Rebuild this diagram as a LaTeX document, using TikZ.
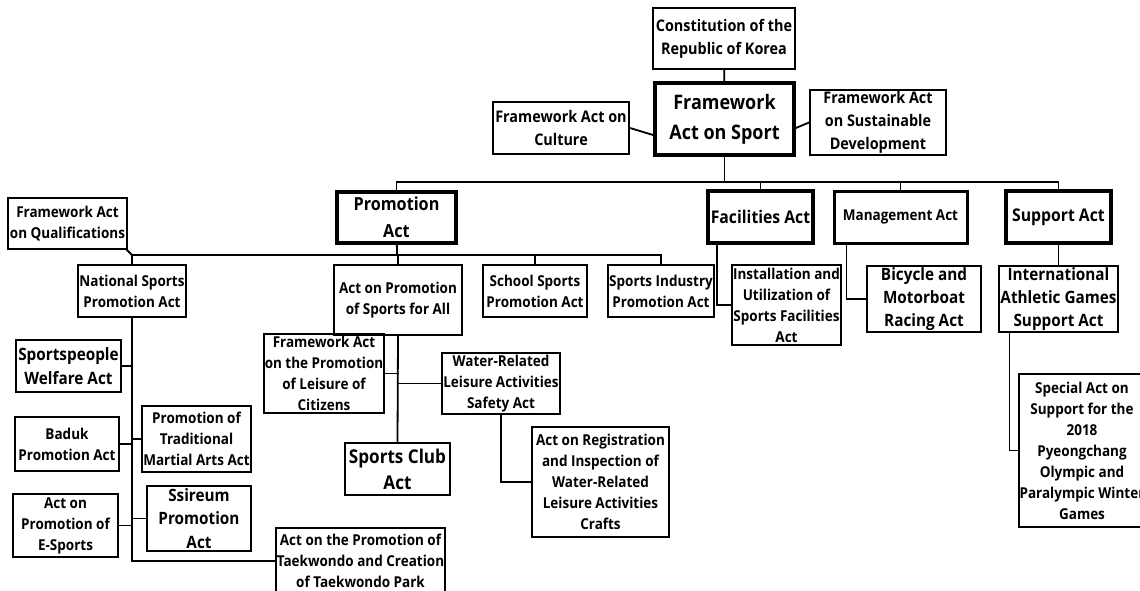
\documentclass[tikz,border=0pt]{standalone}
\usepackage{fontspec}
\setmainfont{Open Sans}[FakeStretch=0.9]
\usetikzlibrary{calc}
\tikzset{
	law/.style={draw,line width=2pt,align=center,inner sep=1pt,font=\fontsize{15}{21}\selectfont\bfseries},
	lawm/.style={law,font=\fontsize{16}{23}\selectfont\bfseries},
	lawb/.style={law,font=\fontsize{17}{23.3}\selectfont\bfseries},
	toplaw/.style={law,line width=3.8pt},
	link/.style={line width=1.8pt}
}
\begin{document}
\begin{tikzpicture}[x=1pt,y=-1pt,line cap=rect]
		\fill[white] (0,0) rectangle (1140,591);
		\useasboundingbox (0,0) rectangle (1140,591);
		\clip (0,0) rectangle (1140,591);
		% top of the tree
		\node[lawm,minimum width=142,minimum height=61] (const) at (724,38.5) {Constitution of the\\Republic of Korea};
		\node[toplaw,minimum width=139,minimum height=72,font=\fontsize{20}{30}\selectfont\bfseries] (sport) at (724.5,119) {Framework\\Act on Sport};
		\node[lawm,minimum width=136,minimum height=52] (culture) at (561,128) {Framework Act on\\Culture};
		\node[lawm,minimum width=136,minimum height=65] (sustain) at (878,122.5) {Framework Act\\on Sustainable\\Development};
		\node[toplaw,minimum width=119,minimum height=51,font=\fontsize{18}{26.7}\selectfont\bfseries] (promo) at (396.5,217.5) {Promotion\\Act};
		\node[toplaw,minimum width=105,minimum height=52,font=\fontsize{17.5}{23}\selectfont\bfseries] (facil) at (760.5,217) {Facilities Act};
		\node[toplaw,line width=3pt,minimum width=133,minimum height=52] (manage) at (900.5,217) {Management Act};
		\node[toplaw,minimum width=105,minimum height=52,font=\fontsize{17.5}{23}\selectfont\bfseries] (support) at (1058.5,217) {Support Act};
		% promotion act branch
		\node[law,minimum width=119,minimum height=51] (qual) at (67.5,223.5) {Framework Act\\on Qualifications};
		\node[law,minimum width=104,minimum height=52] (natl) at (132,291) {National Sports\\Promotion Act};
		\node[law,minimum width=128,minimum height=70] (allsp) at (398,300) {Act on Promotion\\of Sports for All};
		\node[law,minimum width=104,minimum height=52] (school) at (535,291) {School Sports\\Promotion Act};
		\node[law,minimum width=104,minimum height=52] (industry) at (661,291) {Sports Industry\\Promotion Act};
		\node[lawb,minimum width=105,minimum height=52] (welfare) at (68.5,366) {Sportspeople\\Welfare Act};
		\node[law,minimum width=104,minimum height=54] (baduk) at (67,444) {Baduk\\Promotion Act};
		\node[law,minimum width=105,minimum height=66] (martial) at (196.5,439) {Promotion of\\Traditional\\Martial Arts Act};
		\node[law,minimum width=105,minimum height=63] (esports) at (65.5,525.5) {Act on\\Promotion of\\E-Sports};
		\node[lawb,minimum width=104,minimum height=65] (ssireum) at (199,518.5) {Ssireum\\Promotion\\Act};
		\node[law,minimum width=169,minimum height=66] (taekw) at (360.5,561) {Act on the Promotion of\\Taekwondo and Creation\\of Taekwondo Park};
		\node[law,minimum width=118,minimum height=79] (leisure) at (324,373.5) {Framework Act\\on the Promotion\\of Leisure of\\Citizens};
		\node[law,minimum width=114,minimum height=61] (water) at (501,383.5) {Water-Related\\Leisure Activities\\Safety Act};
		\node[law,minimum width=105,minimum height=52,font=\fontsize{19}{26}\selectfont\bfseries] (club) at (397.5,469) {Sports Club\\Act};
		\node[law,minimum width=137,minimum height=110] (regist) at (600.5,482) {Act on Registration\\and Inspection of\\Water-Related\\Leisure Activities\\Crafts};
		% other branches
		\node[law,minimum width=105,minimum height=80] (install) at (786.5,305) {Installation and\\Utilization of\\Sports Facilities\\Act};
		\node[lawb,minimum width=114,minimum height=66] (bicycle) at (924,299) {Bicycle and\\Motorboat\\Racing Act};
		\node[lawb,minimum width=113,minimum height=66] (intl) at (1058.5,299) {International\\Athletic Games\\Support Act};
		\node[law,minimum width=122,minimum height=153] (special) at (1082,450.5) {Special Act on\\Support for the\\2018\\Pyeongchang\\Olympic and\\Paralympic Winter\\Games};
		% connectors
		\coordinate (topjoin) at (724.5,182);
		\coordinate (projoin) at (397,255);
		\draw[link] (const) -- (sport);
		\draw[link] (culture.east) -- ($(sport.west)+(0,16)$);
		\draw[link] ($(sport.east)+(0,9)$) -- (sustain.west);
		\draw[link] (sport) -- (topjoin);
		\draw[link] (promo.north) |- (topjoin) -| (support.north);
		\draw[link] (facil.north) -- (facil.north |- topjoin);
		\draw[link] (manage.north) -- (manage.north |- topjoin);
		\draw[link] (promo) -- (projoin);
		\draw[link] (natl.north) |- (projoin) -| (industry.north);
		\draw[link] (allsp.north) -- (allsp.north |- projoin);
		\draw[link] (school.north) -- (school.north |- projoin);
		\draw[link] ($(qual.south east)+(-1,0)$) -- (natl.north |- projoin);
		\draw[link] (natl.south) |- (taekw.west);
		\draw[link] (welfare.east) -- (welfare.east -| natl.south);
		\draw[link] (baduk.east) -- (baduk.east -| natl.south);
		\draw[link] (esports.east) -- (esports.east -| natl.south);
		\draw[link] (martial.west) -- (martial.west -| natl.south);
		\draw[link] (ssireum.west) -- (ssireum.west -| natl.south);
		\draw[link] (allsp.south) -- (club.north);
		\draw[link] (leisure.east) -- (leisure.east -| allsp.south);
		\draw[link] (water.west) -- (water.west -| allsp.south);
		\draw[link] (water.south) |- (regist.west);
		\draw[link] ($(facil.south west)+(11,0)$) |- (install.west);
		\draw[link] ($(manage.south west)+(14,0)$) |- (bicycle.west);
		\draw[link] (support) -- (intl);
		\draw[link] ($(intl.south west)+(11,0)$) |- (special.west);
\end{tikzpicture}
\end{document}
